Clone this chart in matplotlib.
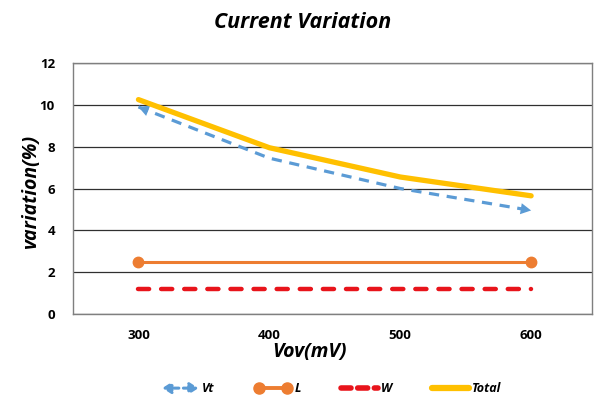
import matplotlib
matplotlib.use("Agg")
import matplotlib.pyplot as plt
from matplotlib.lines import Line2D
from matplotlib.patches import FancyArrowPatch
from matplotlib.legend_handler import HandlerBase, HandlerLine2D

plt.rcParams['font.family'] = ['Open Sans', 'DejaVu Sans']

vov = [300, 400, 500, 600]
vt = [9.9, 7.45, 6.0, 4.95]
length_var = [2.5, 2.5, 2.5, 2.5]
width_var = [1.2, 1.2, 1.2, 1.2]
total = [10.25, 7.95, 6.55, 5.65]
y_ticks = [0, 2, 4, 6, 8, 10, 12]
x_ticks = [300, 400, 500, 600]

C_VT = '#5B9BD5'
C_L = '#ED7D31'
C_W = '#E8141B'
C_TOT = '#FFC000'

fig = plt.figure(figsize=(5.97, 3.97), dpi=100)
ax = fig.add_axes([73 / 597, 1 - 314 / 397, (592 - 73) / 597, (314 - 63) / 397])

# Vt: dashed with arrowheads at both ends
ax.plot(vov, vt, color=C_VT, lw=2.3, dashes=(3.2, 2.4), solid_capstyle='butt', zorder=3)
for (x0, y0), (x1, y1) in [((vov[1], vt[1]), (vov[0], vt[0])), ((vov[-2], vt[-2]), (vov[-1], vt[-1]))]:
    xs = x1 - (x1 - x0) * 0.1
    ys = y1 - (y1 - y0) * 0.1
    ax.annotate('', xy=(x1, y1), xytext=(xs, ys),
                arrowprops=dict(arrowstyle='-|>,head_length=0.75,head_width=0.4',
                                color=C_VT, lw=0, shrinkA=0, shrinkB=0), zorder=3)

ax.plot(vov, length_var, color=C_L, lw=2.2, marker='o', markevery=[0, len(vov) - 1],
        markersize=7.5, zorder=3)
ax.plot(vov, width_var, color=C_W, lw=3.2, dashes=(2.5, 2.7), dash_capstyle='round', zorder=3)
ax.plot(vov, total, color=C_TOT, lw=3.8, solid_capstyle='round', zorder=4)

ax.set_xlim(250, 646.5)
ax.set_ylim(0, 12)
ax.set_xticks(x_ticks)
ax.set_yticks(y_ticks)
ax.set_xticklabels([str(v) for v in x_ticks], fontsize=9.5, fontweight='bold')
ax.set_yticklabels([str(v) for v in y_ticks], fontsize=9.5, fontweight='bold')
ax.tick_params(length=0, pad=11)
ax.tick_params(axis='y', pad=13)
ax.yaxis.grid(True, color='#303030', lw=0.9)
ax.set_axisbelow(True)
for s in ax.spines.values():
    s.set_color('#7f7f7f')
    s.set_linewidth(1.0)

fig.text(303 / 597, 1 - 22 / 397, 'Current Variation', ha='center', va='center',
         fontsize=15.5, fontweight='bold', fontstyle='italic')
fig.text(31 / 597, 1 - 192 / 397, 'variation(%)', ha='center', va='center', rotation=90,
         fontsize=14, fontweight='bold', fontstyle='italic')
fig.text(309 / 597, 1 - 352 / 397, 'Vov(mV)', ha='center', va='center',
         fontsize=14, fontweight='bold', fontstyle='italic')


class HandlerDoubleArrow(HandlerBase):
    def create_artists(self, legend, orig_handle, xdescent, ydescent, width, height, fontsize, trans):
        y = height / 2 - ydescent
        p = FancyArrowPatch((-xdescent, y), (-xdescent + width, y),
                            arrowstyle='<|-|>,head_length=5,head_width=3.2',
                            color=C_VT, lw=2.2, linestyle=(0, (1.5, 1.5)),
                            shrinkA=0, shrinkB=0, mutation_scale=1, transform=trans)
        return [p]


h_vt = Line2D([], [], color=C_VT)
h_l = Line2D([], [], color=C_L, lw=2.8, marker='o', markersize=8)
h_w = Line2D([], [], color=C_W, lw=4.0, dashes=(1.8, 1.2), dash_capstyle='round')
h_t = Line2D([], [], color=C_TOT, lw=4.5, solid_capstyle='round')

leg = fig.legend([h_vt, h_l, h_w, h_t], ['Vt', 'L', 'W', 'Total'],
                 loc='center', bbox_to_anchor=(332 / 597, 1 - 389 / 397), ncol=4,
                 frameon=False, handlelength=2.9, handletextpad=0.3, columnspacing=3.2,
                 prop=dict(size=9, weight='bold', style='italic'),
                 handler_map={h_vt: HandlerDoubleArrow(), h_l: HandlerLine2D(numpoints=2)})

fig.savefig('out.png', dpi=100, facecolor='white')
